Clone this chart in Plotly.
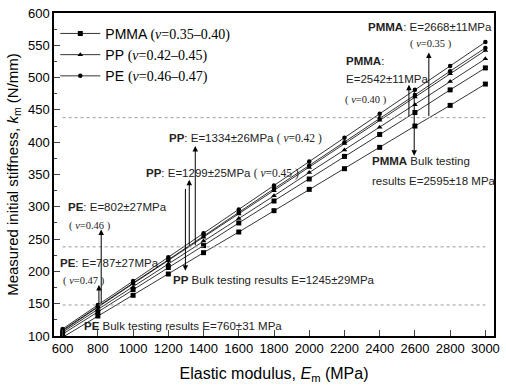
import plotly.graph_objects as go

# ---------------- data ----------------
E_mod = [600, 800, 1000, 1200, 1400, 1600, 1800, 2000, 2200, 2400, 2600, 2800, 3000]

pe_047 = [111, 148, 185, 222, 259, 296, 333, 370, 407, 444, 481, 518, 555]
pe_046 = [109, 146, 182, 218, 255, 291, 328, 364, 400, 437, 473, 510, 546]
pp_045 = [108, 145, 181, 217, 253, 289, 325, 361, 398, 434, 470, 506, 542]
pp_042 = [106, 141, 176, 212, 247, 282, 317, 353, 388, 423, 458, 494, 529]
pmma_040 = [103, 137, 172, 206, 240, 275, 309, 343, 378, 412, 446, 481, 515]
pmma_035 = [98, 131, 163, 196, 229, 261, 294, 327, 359, 392, 425, 457, 490]

# reference (dotted) stiffness levels
ref_levels = [438, 238, 148]
ref_span = [600, 3000]

# arrows: (E, tail k, tip k)
arrows = [
    (2679, 438, 539),
    (2566, 438, 489),
    (2596, 482, 379),
    (1353, 238, 394),
    (1319, 238, 342),
    (1297, 330, 201),
    (819, 148, 265),
    (806, 148, 179),
]

x_ticks = list(range(600, 3001, 200))
y_ticks = list(range(100, 601, 50))

SERIF = "Liberation Serif"
def nu(txt, paren=True):
    if paren:
        return ('<span style="font-family:%s">( <i>ν</i>=%s )</span>' % (SERIF, txt))
    return ('<span style="font-family:%s">(<i>ν</i>=%s)</span>' % (SERIF, txt))

fig = go.Figure()

series = [
    (pmma_035, "square", "PMMA " + nu("0.35–0.40", False), True, "pmma"),
    (pmma_040, "square", "PMMA", False, "pmma"),
    (pp_042, "triangle-up", "PP " + nu("0.42–0.45", False), True, "pp"),
    (pp_045, "triangle-up", "PP", False, "pp"),
    (pe_046, "circle", "PE " + nu("0.46–0.47", False), True, "pe"),
    (pe_047, "circle", "PE", False, "pe"),
]
order = {"pmma": 1, "pp": 2, "pe": 3}
for vals, sym, name, show, grp in series:
    fig.add_trace(go.Scatter(
        x=E_mod, y=vals, mode="lines+markers", name=name,
        showlegend=show, legendgroup=grp, legendrank=order[grp],
        line=dict(color="black", width=0.8),
        marker=dict(symbol=sym, size=5 if sym != "circle" else 4.5, color="black"),
    ))

for lv in ref_levels:
    fig.add_trace(go.Scatter(
        x=ref_span, y=[lv, lv], mode="lines", showlegend=False,
        line=dict(color="#9a9a9a", width=1, dash="dot"), hoverinfo="skip"))

for ex, k0, k1 in arrows:
    fig.add_annotation(x=ex, y=k1, ax=ex, ay=k0, axref="x", ayref="y",
                       xref="x", yref="y", text="", showarrow=True,
                       arrowhead=2, arrowsize=1.1, arrowwidth=1, arrowcolor="black")

# text labels (pixel positions -> paper coords)
L, R, T, B = 54, 497, 6, 337
def px(xp, yp):
    return (xp - L) / (R - L), (B - yp) / (B - T)

labels = [
    (368, 20, "<b>PMMA</b>: E=2668±11MPa", 11.5),
    (410, 38, nu("0.35"), 10.5),
    (346, 55, "<b>PMMA</b>:", 11.5),
    (346, 74, "E=2542±11MPa", 11.5),
    (345, 95, nu("0.40"), 10.5),
    (372, 158, "<b>PMMA</b> Bulk testing", 11.5),
    (372, 178, "results E=2595±18 MPa", 11.5),
    (168, 135, "<b>PP</b>: E=1334±26MPa " + nu("0.42"), 11.5),
    (145, 170, "<b>PP</b>: E=1299±25MPa " + nu("0.45"), 11.5),
    (66, 205, "<b>PE</b>: E=802±27MPa", 11.5),
    (67, 224, nu("0.46"), 10.5),
    (58, 262, "<b>PE</b>: E=787±27MPa", 11.5),
    (61, 281, nu("0.47"), 10.5),
    (172, 280, "<b>PP</b> Bulk testing results E=1245±29MPa", 11.5),
    (82, 327, "<b>PE</b> Bulk testing results E=760±31 MPa", 11.5),
]
for xp, yp, t, fs in labels:
    xx, yy = px(xp, yp)
    fig.add_annotation(x=xx, y=yy, xref="paper", yref="paper", text=t,
                       showarrow=False, xanchor="left", yanchor="middle",
                       font=dict(family="Arial, Liberation Sans", size=fs, color="#222"))

fig.update_layout(
    width=506, height=386,
    margin=dict(l=L, r=506 - R, t=T, b=386 - B),
    paper_bgcolor="white", plot_bgcolor="white",
    font=dict(family="Arial, Liberation Sans", color="black"),
    legend=dict(x=0.003, y=0.985, xanchor="left", yanchor="top",
                bgcolor="rgba(0,0,0,0)", font=dict(size=14),
                itemwidth=40, tracegroupgap=0),
    showlegend=True,
)
fig.update_xaxes(
    range=[551, 3049], tickvals=x_ticks, ticks="inside", ticklen=6,
    tickwidth=1.3, showline=True, linecolor="black", linewidth=1.5,
    mirror=True, showgrid=False, zeroline=False,
    tickfont=dict(size=13), title=dict(
        text="Elastic modulus, <i>E</i><sub>m</sub> (MPa)",
        font=dict(size=16), standoff=12),
)
fig.update_yaxes(
    range=[100, 600], tickvals=y_ticks, ticks="inside", ticklen=6,
    tickwidth=1.3, showline=True, linecolor="black", linewidth=1.5,
    mirror=True, showgrid=False, zeroline=False,
    minor=dict(ticks="inside", ticklen=3, tickwidth=1, dtick=25, showgrid=False),
    tickfont=dict(size=13), title=dict(
        text="Measured initial stiffness, <i>k</i><sub>m</sub> (N/mm)",
        font=dict(size=15), standoff=6),
)

fig.write_html("out.html")
